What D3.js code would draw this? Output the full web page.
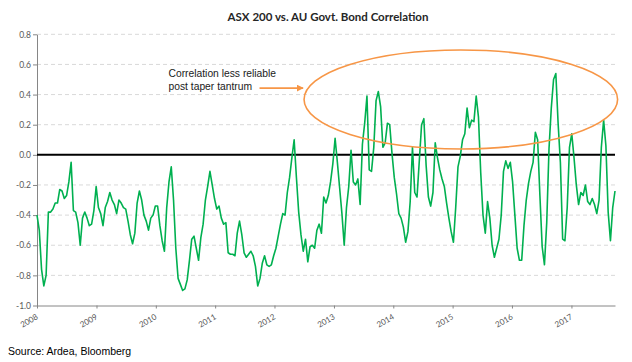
<!DOCTYPE html>
<html>
<head>
<meta charset="utf-8">
<script src="https://cdn.jsdelivr.net/npm/d3@7"></script>
<style>
    body { margin: 0; background: #fff; }
    svg { display: block; }
</style>
</head>
<body>
<div id="chart"></div>
<script>
// rolling correlation, every two weeks from Jan 2008
const startDate = new Date(2008, 0, 1);
const stepDays = 14;
const correlation = [
    -0.40, -0.50, -0.76, -0.87, -0.80, -0.38, -0.38, -0.36, -0.32, -0.32,
    -0.23, -0.24, -0.29, -0.27, -0.18, -0.05, -0.37, -0.38, -0.45, -0.60,
    -0.42, -0.38, -0.42, -0.47, -0.46, -0.37, -0.21, -0.35, -0.39, -0.47,
    -0.35, -0.31, -0.25, -0.30, -0.33, -0.39, -0.30, -0.32, -0.35, -0.36,
    -0.44, -0.53, -0.59, -0.52, -0.32, -0.24, -0.30, -0.40, -0.44, -0.50,
    -0.42, -0.40, -0.34, -0.34, -0.47, -0.57, -0.64, -0.35, -0.18, -0.08,
    -0.30, -0.62, -0.82, -0.86, -0.90, -0.89, -0.83, -0.70, -0.56, -0.54,
    -0.62, -0.70, -0.55, -0.46, -0.30, -0.21, -0.11, -0.20, -0.29, -0.36,
    -0.34, -0.42, -0.46, -0.45, -0.65, -0.66, -0.66, -0.67, -0.52, -0.44,
    -0.53, -0.65, -0.68, -0.66, -0.64, -0.67, -0.74, -0.87, -0.82, -0.72,
    -0.67, -0.73, -0.74, -0.73, -0.67, -0.62, -0.54, -0.46, -0.39, -0.40,
    -0.25, -0.15, -0.02, 0.10, -0.15, -0.38, -0.53, -0.64, -0.56, -0.71,
    -0.61, -0.60, -0.62, -0.50, -0.46, -0.52, -0.28, -0.32, -0.27, -0.18,
    -0.06, 0.11, -0.05, -0.22, -0.39, -0.60, -0.35, -0.21, 0.03, -0.18,
    -0.20, -0.16, -0.33, 0.07, 0.21, 0.39, -0.10, -0.11, 0.05, 0.36,
    0.42, 0.32, 0.05, 0.08, 0.21, 0.20, 0.01, -0.15, -0.26, -0.39,
    -0.42, -0.48, -0.58, -0.51, -0.31, 0.05, -0.25, -0.28, -0.04, 0.20,
    0.24, -0.07, -0.28, -0.34, -0.25, 0.08, -0.02, -0.10, -0.16, -0.21,
    -0.32, -0.42, -0.51, -0.58, -0.35, -0.08, -0.01, 0.10, 0.14, 0.31,
    0.18, 0.23, 0.22, 0.39, 0.25, -0.12, -0.40, -0.52, -0.31, -0.42,
    -0.60, -0.68, -0.62, -0.56, -0.40, -0.11, -0.04, -0.09, -0.05, -0.18,
    -0.40, -0.62, -0.70, -0.70, -0.47, -0.30, -0.19, -0.11, -0.05, 0.15,
    0.10, -0.27, -0.61, -0.73, -0.45, 0.04, 0.31, 0.50, 0.54, 0.21,
    -0.05, -0.56, -0.57, -0.35, 0.05, 0.14, -0.02, -0.20, -0.33, -0.25,
    -0.27, -0.20, -0.31, -0.33, -0.29, -0.33, -0.39, -0.30, 0.05, 0.23,
    0.06, -0.38, -0.57, -0.35, -0.24
];
const yTicks = [0.8, 0.6, 0.4, 0.2, 0.0, -0.2, -0.4, -0.6, -0.8, -1.0];
const yTickLabels = ["0.8", "0.6", "0.4", "0.2", "0.0", "-0.2", "-0.4", "-0.6", "-0.8", "-1.0"];
const xTickYears = [2008, 2009, 2010, 2011, 2012, 2013, 2014, 2015, 2016, 2017];
const chartTitle = "ASX 200 vs. AU Govt. Bond Correlation";
const noteLines = ["Correlation less reliable", "post taper tantrum"];
const sourceText = "Source: Ardea, Bloomberg";

const width = 632, height = 362;
const green = "#00b050", orange = "#f79646", axisGrey = "#868686", labelGrey = "#595959";

let dates = correlation.map((v, i) => d3.timeDay.offset(startDate, i * stepDays));
let points = dates.map((d, i) => ({date: d, value: correlation[i]}));

let x = d3.scaleTime()
    .domain([startDate, dates[dates.length - 1]])
    .range([37, 615]);

let y = d3.scaleLinear()
    .domain([-1, 0.8])
    .range([305.5, 34.3]);

let svg = d3.select("#chart").append("svg")
    .attr("width", width)
    .attr("height", height);

// title
svg.append("text")
    .attr("x", 328)
    .attr("y", 21)
    .attr("text-anchor", "middle")
    .attr("font-family", "Lato, 'Open Sans', sans-serif")
    .attr("font-weight", "bold")
    .attr("font-size", "11.5px")
    .attr("fill", "#262626")
    .text(chartTitle);

// dashed gridlines (0 gets the black line, -1 is the axis)
svg.append("g")
    .selectAll("line")
    .data(yTicks.filter(t => t !== 0 && t !== -1))
    .enter()
    .append("line")
    .attr("x1", x.range()[0])
    .attr("x2", x.range()[1])
    .attr("y1", d => y(d))
    .attr("y2", d => y(d))
    .attr("stroke", "#d9d9d9")
    .attr("stroke-width", 1)
    .attr("stroke-dasharray", "4,3");

// y axis
let yAxis = svg.append("g")
    .attr("transform", "translate(" + x.range()[0] + ",0)")
    .call(d3.axisLeft(y)
        .tickValues(yTicks)
        .tickSize(4)
        .tickSizeOuter(0)
        .tickFormat((d, i) => yTickLabels[i]));
yAxis.select(".domain").attr("stroke", axisGrey);
yAxis.selectAll(".tick line").attr("stroke", axisGrey);
yAxis.selectAll(".tick text")
    .attr("x", -6)
    .attr("fill", labelGrey)
    .attr("font-family", "Lato, sans-serif")
    .attr("font-size", "8.5px");

// x axis
let xAxis = svg.append("g")
    .attr("transform", "translate(0," + y(-1) + ")")
    .call(d3.axisBottom(x)
        .tickValues(xTickYears.map(yr => new Date(yr, 0, 1)))
        .tickSize(3)
        .tickSizeOuter(0)
        .tickFormat(d3.timeFormat("%Y")));
xAxis.select(".domain").attr("stroke", axisGrey);
xAxis.selectAll(".tick line").attr("stroke", axisGrey);
xAxis.selectAll(".tick text")
    .attr("fill", labelGrey)
    .attr("font-family", "Lato, sans-serif")
    .attr("font-size", "8px")
    .attr("text-anchor", "end")
    .attr("dy", 0)
    .attr("y", 0)
    .attr("transform", "translate(1,13) rotate(-30)");

// zero line
svg.append("line")
    .attr("x1", x.range()[0])
    .attr("x2", x.range()[1])
    .attr("y1", y(0))
    .attr("y2", y(0))
    .attr("stroke", "#000")
    .attr("stroke-width", 2);

// correlation series
let line = d3.line()
    .x(d => x(d.date))
    .y(d => y(d.value));

svg.append("path")
    .datum(points)
    .attr("fill", "none")
    .attr("stroke", green)
    .attr("stroke-width", 1.6)
    .attr("stroke-linejoin", "round")
    .attr("d", line);

// annotation: ellipse round the post taper tantrum period
let ellLeft = x(new Date(2012, 6, 1)), ellRight = x(new Date(2017, 9, 12));
let ellTop = y(0.696), ellBottom = y(0.039);
svg.append("ellipse")
    .attr("cx", (ellLeft + ellRight) / 2)
    .attr("cy", (ellTop + ellBottom) / 2)
    .attr("rx", (ellRight - ellLeft) / 2)
    .attr("ry", (ellBottom - ellTop) / 2)
    .attr("fill", "none")
    .attr("stroke", orange)
    .attr("stroke-width", 1.6);

svg.append("defs").append("marker")
    .attr("id", "arrowHead")
    .attr("viewBox", "0 0 10 10")
    .attr("refX", 9)
    .attr("refY", 5)
    .attr("markerWidth", 7)
    .attr("markerHeight", 7)
    .attr("markerUnits", "userSpaceOnUse")
    .attr("orient", "auto")
    .append("path")
    .attr("d", "M0,0 L10,5 L0,10 z")
    .attr("fill", orange);

let arrowY = y(0.443);
svg.append("line")
    .attr("x1", x(new Date(2011, 9, 1)))
    .attr("x2", ellLeft - 1)
    .attr("y1", arrowY)
    .attr("y2", arrowY)
    .attr("stroke", orange)
    .attr("stroke-width", 1.6)
    .attr("marker-end", "url(#arrowHead)");

svg.append("g")
    .selectAll("text")
    .data(noteLines)
    .enter()
    .append("text")
    .attr("x", x(new Date(2010, 2, 20)))
    .attr("y", (d, i) => y(0.516) + i * 12.5)
    .attr("font-family", "'Liberation Sans', Arial, sans-serif")
    .attr("font-size", "10.3px")
    .attr("fill", "#1a1a1a")
    .text(d => d);

// source
svg.append("text")
    .attr("x", 8)
    .attr("y", 355)
    .attr("font-family", "'Liberation Sans', Arial, sans-serif")
    .attr("font-size", "10.5px")
    .attr("fill", "#000")
    .text(sourceText);
</script>
</body>
</html>
